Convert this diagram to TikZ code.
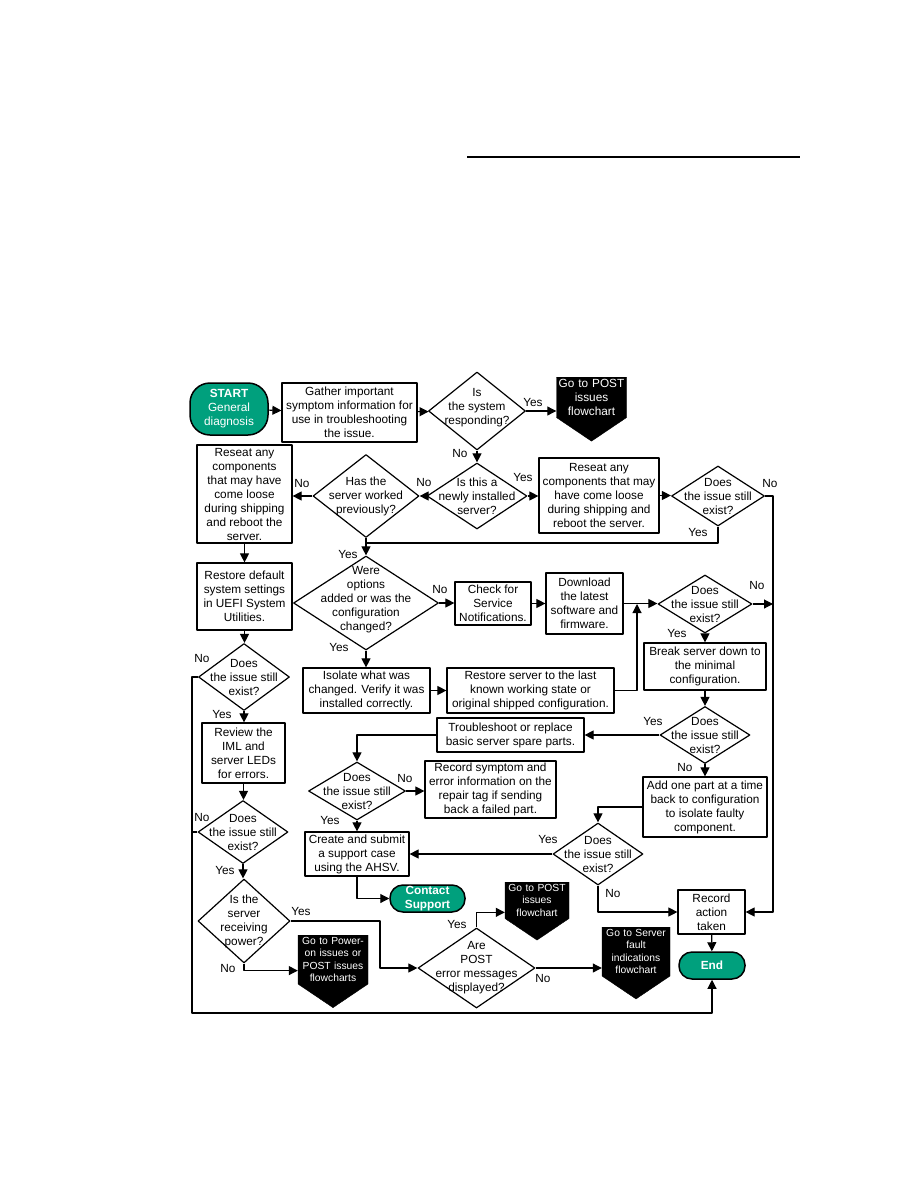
\documentclass[tikz,border=0pt]{standalone}
\usepackage{fontspec}
\setmainfont{Liberation Sans}
\usetikzlibrary{arrows.meta,shapes.geometric,shapes.symbols}
\definecolor{hpgreen}{RGB}{0,160,125}

\begin{document}
\begin{tikzpicture}[x=1pt, y=-1pt, line join=round, font=\fontsize{11.8}{14}\selectfont, >={Triangle[length=9pt,width=9pt]},
	box/.style={draw, line width=1.2pt, fill=white, align=center, inner sep=1pt},
	dia/.style={diamond, draw, line width=1.2pt, fill=white, inner sep=0pt},
	dtxt/.style={align=center, inner sep=0pt},
	term/.style={rectangle, rounded corners=13pt, draw, line width=1.5pt, fill=hpgreen, text=white, align=center, inner sep=1pt},
	offp/.style={signal, signal to=south, signal pointer angle=112, fill=black, draw=black, text=white, align=center, inner xsep=1.5pt, inner ysep=2pt},
	small/.style={font=\fontsize{10.3}{12.5}\selectfont},
	lbl/.style={inner sep=0pt},
	conn/.style={line width=1.1pt}]
	\useasboundingbox (0,0) rectangle (918,1188);
	\draw[line width=1.3pt] (467,157) -- (800,157);
	
	\node[term, rounded corners=20pt, minimum width=78pt, minimum height=52pt] (start) at (229,409) {\textbf{START}\\General\\diagnosis};
	\node[box, minimum width=135pt, minimum height=59pt] (gather) at (349.5,412.5) {Gather important\\symptom information for\\use in troubleshooting\\the issue.};
	\node[dia, minimum width=97pt, minimum height=78pt, label={[dtxt, yshift=3pt]center:{Is\\the system\\responding?}}] (q1) at (477,411) {};
	\node[offp, text width=67pt, anchor=north] (post1) at (591.5,377) {Go to POST\\issues\\flowchart};
	\node[dia, minimum width=100pt, minimum height=66pt, label={[dtxt]center:{Is this a\\newly installed\\server?}}] (q2) at (477,496) {};
	\node[dia, minimum width=106pt, minimum height=83pt, label={[dtxt]center:{Has the\\server worked\\previously?}}] (q3) at (366,496) {};
	\node[box, minimum width=95pt, minimum height=98pt] (reseatL) at (244.5,494) {Reseat any\\components\\that may have\\come loose\\during shipping\\and reboot the\\server.};
	\node[box, minimum width=120pt, minimum height=75pt] (reseatR) at (599,495.5) {Reseat any\\components that may\\have come loose\\during shipping and\\reboot the server.};
	\node[dia, minimum width=93pt, minimum height=60pt, label={[dtxt]center:{Does\\the issue still\\exist?}}] (q4) at (718,496) {};
	\node[box, minimum width=95pt, minimum height=67pt] (restore) at (244.5,596.5) {Restore default\\system settings\\in UEFI System\\Utilities.};
	\node[dia, minimum width=145pt, minimum height=94pt, label={[dtxt, yshift=3pt]center:{Were\\options\\added or was the\\configuration\\changed?}}] (q5) at (366,603) {};
	\node[box, minimum width=76pt, minimum height=43pt] (check) at (493,603.5) {Check for\\Service\\Notifications.};
	\node[box, minimum width=77pt, minimum height=61pt] (download) at (584.5,603.5) {Download\\the latest\\software and\\firmware.};
	\node[dia, minimum width=94pt, minimum height=58pt, label={[dtxt]center:{Does\\the issue still\\exist?}}] (q10) at (705,604) {};
	\node[dia, minimum width=91pt, minimum height=67pt, label={[dtxt]center:{Does\\the issue still\\exist?}}] (q6) at (244,677) {};
	\node[box, minimum width=127pt, minimum height=45pt] (isolate) at (366.5,690.5) {Isolate what was\\changed. Verify it was\\installed correctly.};
	\node[box, minimum width=167pt, minimum height=45pt] (restoreSrv) at (530.5,690.5) {Restore server to the last\\known working state or\\original shipped configuration.};
	\node[box, minimum width=122pt, minimum height=47pt] (breakdown) at (705,666.5) {Break server down to\\the minimal\\configuration.};
	\node[dia, minimum width=90pt, minimum height=57pt, label={[dtxt]center:{Does\\the issue still\\exist?}}] (q11) at (705,735) {};
	\node[box, minimum width=147pt, minimum height=34pt] (trouble) at (510.5,735) {Troubleshoot or replace\\basic server spare parts.};
	\node[box, minimum width=83pt, minimum height=60pt] (review) at (243.5,753) {Review the\\IML and\\server LEDs\\for errors.};
	\node[dia, minimum width=97pt, minimum height=58pt, label={[dtxt]center:{Does\\the issue still\\exist?}}] (q12) at (357,791) {};
	\node[box, minimum width=131pt, minimum height=57pt] (recsym) at (490.5,789.5) {Record symptom and\\error information on the\\repair tag if sending\\back a failed part.};
	\node[box, minimum width=124pt, minimum height=60pt] (addpart) at (705,807) {Add one part at a time\\back to configuration\\to isolate faulty\\component.};
	\node[dia, minimum width=90pt, minimum height=63pt, label={[dtxt]center:{Does\\the issue still\\exist?}}] (q7) at (243,832) {};
	\node[box, minimum width=104pt, minimum height=44pt] (create) at (357,854) {Create and submit\\a support case\\using the AHSV.};
	\node[dia, minimum width=90pt, minimum height=62pt, label={[dtxt]center:{Does\\the issue still\\exist?}}] (q13) at (598,854) {};
	\node[term, minimum width=75pt, minimum height=27pt] (contact) at (427.5,898.5) {\textbf{Contact}\\\textbf{Support}};
	\node[dia, minimum width=92pt, minimum height=84pt, label={[dtxt]center:{Is the\\server\\receiving\\power?}}] (q8) at (244,921) {};
	\node[dia, minimum width=117pt, minimum height=80pt, label={[dtxt]center:{Are\\POST\\error messages\\displayed?}}] (q9) at (476.5,968) {};
	\node[box, minimum width=67pt, minimum height=44pt] (record) at (711.5,912) {Record\\action\\taken};
	\node[term, minimum width=66pt, minimum height=27pt] (endn) at (712,965.5) {\textbf{End}};
	\node[offp, small, text width=67pt, anchor=north] (power) at (333,935) {Go to Power-\\on issues or\\POST issues\\flowcharts};
	\node[offp, small, text width=65pt, anchor=north] (fault) at (636,927) {Go to Server\\fault\\indications\\flowchart};
	\node[offp, small, text width=61pt, anchor=north] (post2) at (537,882) {Go to POST\\issues\\flowchart};
	
	\coordinate (rail) at (773,496);
	\coordinate (j1) at (366,543);
	\coordinate (j2) at (380,921);
	\coordinate (j3) at (637,604);
	\coordinate (lrail) at (192,1013);
	
	\draw[conn,->] (start) -- (gather);
	\draw[conn,->] (gather) -- (q1);
	\draw[conn,->] (q1) -- (post1.west |- q1);
	\draw[conn,->] (q1) -- (q2);
	\draw[conn,->] (q2) -- (q3);
	\draw[conn,->] (q3.west) -- (q3.west -| reseatL.east);
	\draw[conn,->] (q2.east) -- (q2.east -| reseatR.west);
	\draw[conn,->] (reseatR.east) -- (reseatR.east -| q4.west);
	\draw[conn,->] (q4.east) -- (rail) |- (record.east);
	\draw[conn,->] (q4.south) |- (j1) -- (q5.north);
	\draw[conn] (q3.south) -- (j1);
	\draw[conn,->] (reseatL) -- (restore);
	\draw[conn,->] (restore.south) -- (restore.south |- q6.north);
	\draw[conn,->] (q6.west) -| (lrail) -| (endn.south);
	\draw[conn] (q7.west) -- (q7.west -| lrail);
	\draw[conn,->] (q6.south) -- (q6.south |- review.north);
	\draw[conn,->] (review.south) -- (review.south |- q7.north);
	\draw[conn,->] (q7.south) -- (q7.south |- q8.north);
	\draw[conn,->] (q8.east) -- (j2) |- (q9.west);
	\draw[conn,->] (q8.south) |- ([yshift=-11pt]power.west);
	\draw[conn,->] (q9.north) |- ([yshift=-12pt]post2.west);
	\draw[conn,->] (q9.east) -- (q9.east -| fault.west);
	\draw[conn,->] (q5.east) -- (q5.east -| check.west);
	\draw[conn,->] (q5.south) -- (q5.south |- isolate.north);
	\draw[conn,->] (isolate) -- (restoreSrv);
	\draw[conn,->] (check) -- (download);
	\draw[conn,->] (download.east) -- (download.east -| q10.west);
	\draw[conn,->] (restoreSrv.east) -| (j3);
	\draw[conn,->] (q10.east) -- (q10.east -| rail);
	\draw[conn,->] (q10) -- (breakdown);
	\draw[conn,->] (breakdown) -- (q11);
	\draw[conn,->] (q11) -- (trouble);
	\draw[conn,->] (trouble.west) -| (q12.north);
	\draw[conn,->] (q12.east) -- (q12.east -| recsym.west);
	\draw[conn,->] (q12.south) -- (q12.south |- create.north);
	\draw[conn,->] (create.south) |- (contact.west);
	\draw[conn,->] (q11) -- (addpart);
	\draw[conn,->] (addpart.west) -| (q13.north);
	\draw[conn,->] (q13.west) -- (q13.west -| create.east);
	\draw[conn,->] (q13.south) |- (record.west);
	\draw[conn,->] (record) -- (endn);
	
	\node[lbl] (y1) at (533,402) {Yes};
	\node[lbl] (n1) at (460,453) {No};
	\node[lbl] (n2) at (424,482) {No};
	\node[lbl] (y2) at (523,477) {Yes};
	\node[lbl] (n3) at (302,483) {No};
	\node[lbl] (n4) at (770,483) {No};
	\node[lbl] (y4) at (698,532) {Yes};
	\node[lbl] (y3) at (348,554) {Yes};
	\node[lbl] (n5) at (440,589) {No};
	\node[lbl] (y5) at (339,647) {Yes};
	\node[lbl] (n6) at (202,658) {No};
	\node[lbl] (y6) at (222,714) {Yes};
	\node[lbl] (n10) at (757,585) {No};
	\node[lbl] (y10) at (677,633) {Yes};
	\node[lbl] (y11) at (653,721) {Yes};
	\node[lbl] (n11) at (685,767) {No};
	\node[lbl] (n12) at (405,778) {No};
	\node[lbl] (y12) at (330,820) {Yes};
	\node[lbl] (n7) at (202,817) {No};
	\node[lbl] (y7) at (225,870) {Yes};
	\node[lbl] (y13) at (548,839) {Yes};
	\node[lbl] (n13) at (613,893) {No};
	\node[lbl] (y8) at (301,911) {Yes};
	\node[lbl] (n8) at (228,968) {No};
	\node[lbl] (y9) at (457,924) {Yes};
	\node[lbl] (n9) at (543,978) {No};
\end{tikzpicture}
\end{document}
